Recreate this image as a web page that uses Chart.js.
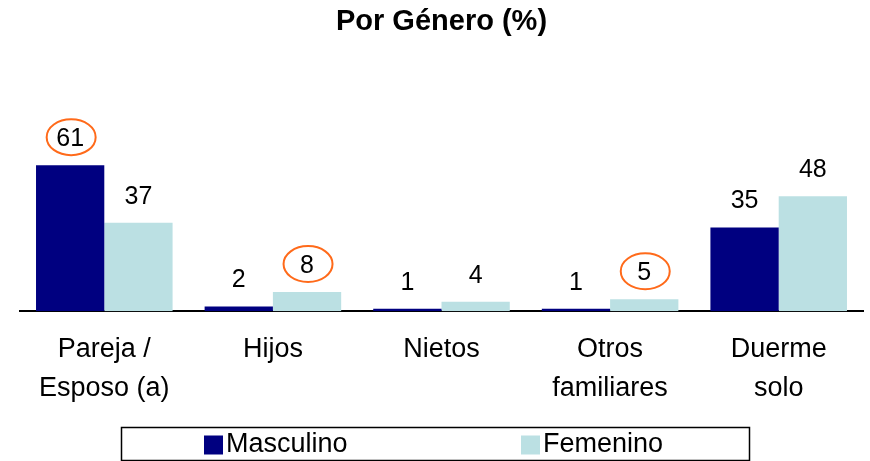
<!DOCTYPE html>
<html><head><meta charset="utf-8">
<script src="https://cdn.jsdelivr.net/npm/chart.js@4"></script>
<style>html,body{margin:0;padding:0;background:#fff}</style>
</head><body>
<canvas id="c" width="870" height="461"></canvas>
<script>
const categories = [["Pareja /", "Esposo (a)"], "Hijos", "Nietos", ["Otros", "familiares"], ["Duerme", "solo"]];
const masculino = [61, 2, 1, 1, 35];
const femenino = [37, 8, 4, 5, 48];
const seriesNames = ["Masculino", "Femenino"];
const circled = [[0, 0], [1, 1], [1, 3]]; // [dataset, category] labels with orange ring

const FONT = '"Liberation Sans", Arial, sans-serif';

const valueLabels = {
  id: 'valueLabels',
  afterDatasetsDraw(chart) {
    const ctx = chart.ctx;
    ctx.save();
    ctx.font = '25px ' + FONT;
    ctx.fillStyle = '#000';
    ctx.textAlign = 'center';
    ctx.textBaseline = 'alphabetic';
    chart.data.datasets.forEach((ds, di) => {
      const meta = chart.getDatasetMeta(di);
      meta.data.forEach((bar, i) => {
        const x = bar.x, y = bar.y - 19;
        ctx.fillText(String(ds.data[i]), x, y);
        if (circled.some(c => c[0] === di && c[1] === i)) {
          ctx.beginPath();
          ctx.ellipse(x + 1, y - 9, 24.5, 18, 0, 0, Math.PI * 2);
          ctx.strokeStyle = '#FF6A1A';
          ctx.lineWidth = 2;
          ctx.stroke();
        }
      });
    });
    ctx.restore();
  }
};

const boxLegend = {
  id: 'boxLegend',
  afterDraw(chart, args, opts) {
    const ctx = chart.ctx;
    ctx.save();
    ctx.strokeStyle = '#000';
    ctx.lineWidth = 1.5;
    ctx.strokeRect(opts.left, opts.top, opts.right - opts.left, opts.bottom - opts.top);
    ctx.font = '27px ' + FONT;
    ctx.textBaseline = 'middle';
    ctx.textAlign = 'left';
    chart.data.datasets.forEach((ds, di) => {
      const x = opts.itemX[di];
      const cy = (opts.top + opts.bottom) / 2 + 1;
      ctx.fillStyle = ds.backgroundColor;
      ctx.fillRect(x, cy - 9.5, 19, 19);
      ctx.fillStyle = '#000';
      ctx.fillText(ds.label, x + 22, cy);
    });
    ctx.restore();
  }
};

new Chart(document.getElementById('c'), {
  type: 'bar',
  data: {
    labels: categories,
    datasets: [
      { label: seriesNames[0], data: masculino, backgroundColor: '#000080' },
      { label: seriesNames[1], data: femenino, backgroundColor: '#BBE0E3' }
    ]
  },
  options: {
    responsive: false,
    animation: false,
    events: [],
    layout: { padding: { left: 20, right: 7, top: 0, bottom: 34 } },
    datasets: { bar: { categoryPercentage: 0.81, barPercentage: 1 } },
    plugins: {
      legend: { display: false },
      tooltip: { enabled: false },
      title: {
        display: true,
        text: 'Por Género (%)',
        color: '#000',
        font: { family: FONT, size: 29, weight: 'bold', lineHeight: 1.2 },
        padding: { top: 5, bottom: 32 }
      },
      boxLegend: { left: 121.5, right: 749.5, top: 427.5, bottom: 460.5, itemX: [204, 521] }
    },
    scales: {
      x: {
        grid: { display: false, drawTicks: false },
        border: { display: true, color: '#000', width: 2 },
        ticks: {
          color: '#000',
          font: { family: FONT, size: 27, lineHeight: 1.44 },
          padding: 19,
          maxRotation: 0,
          autoSkip: false
        }
      },
      y: { display: false, min: 0, max: 100 }
    }
  },
  plugins: [valueLabels, boxLegend]
});
</script>
</body></html>
